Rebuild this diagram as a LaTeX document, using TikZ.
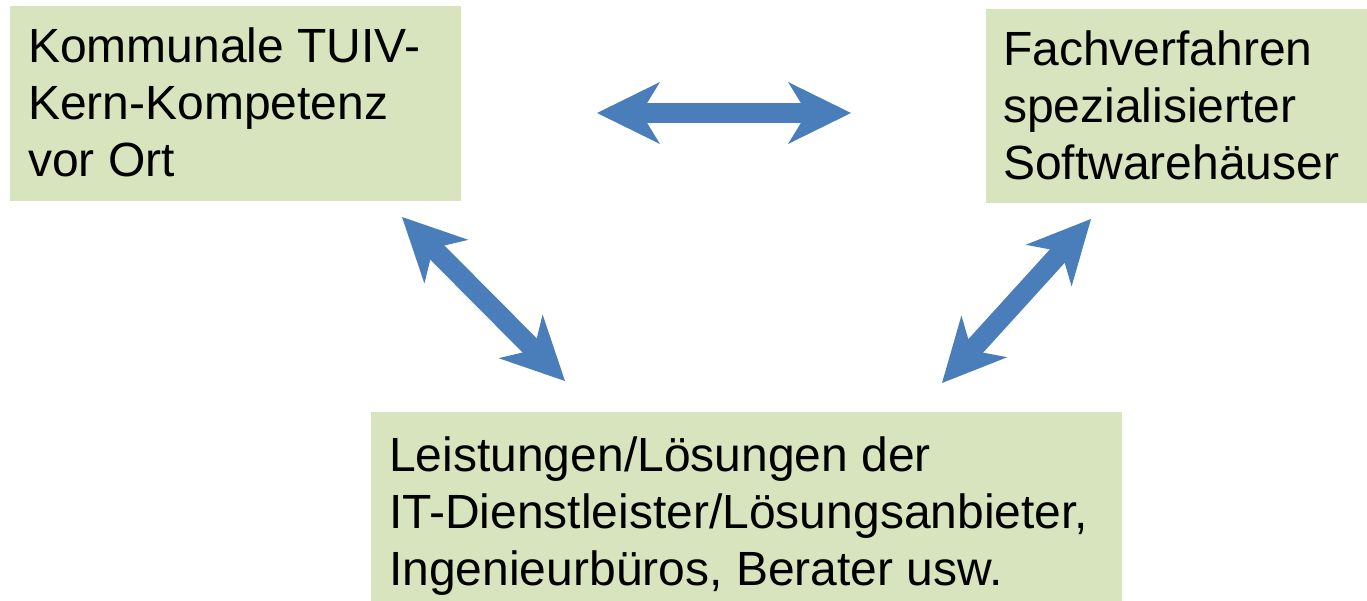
\documentclass[tikz,border=0pt]{standalone}
\usepackage{fontspec}
\setmainfont{Liberation Sans}
\usetikzlibrary{arrows.meta}
\definecolor{boxgreen}{RGB}{215,228,189}
\definecolor{arrowblue}{RGB}{74,126,187}
\begin{document}
\begin{tikzpicture}[x=1pt,y=-1pt,
  box/.style={fill=boxgreen, draw=none, anchor=north west, inner sep=0pt},
  boxtext/.style={anchor=base west, inner sep=0pt, align=left, font=\fontsize{48}{57}\selectfont},
  dblarrow/.style={draw=arrowblue, line width=20pt,
    {Stealth[length=63pt,width=62pt,inset=19pt,line width=0pt,fill=arrowblue]}-{Stealth[length=63pt,width=62pt,inset=19pt,line width=0pt,fill=arrowblue]}}]
\useasboundingbox (0,0) rectangle (1367,601);
% boxes
\node[box, minimum width=451pt, minimum height=195pt] (boxA) at (10,6) {};
\node[box, minimum width=381pt, minimum height=194pt] (boxB) at (986,9) {};
\node[box, minimum width=751pt, minimum height=189pt] (boxC) at (371,412) {};
% texts (base anchor = last line's baseline)
\node[boxtext] (textA) at (28,177) {Kommunale TUIV-\\Kern-Kompetenz\\vor Ort};
\node[boxtext] (textB) at (1003,180) {Fachverfahren\\spezialisierter\\Softwareh\"auser};
\node[boxtext] (textC) at (389,585) {Leistungen/L\"osungen der\\IT-Dienstleister/L\"osungsanbieter,\\Ingenieurb\"uros, Berater usw.};
% arrow ends
\coordinate (h1) at (597,113); \coordinate (h2) at (851,113);
\coordinate (l1) at (402,217); \coordinate (l2) at (565,381);
\coordinate (r1) at (1091,219); \coordinate (r2) at (942,383);
\draw[dblarrow] (h1) -- (h2);
\draw[dblarrow] (l1) -- (l2);
\draw[dblarrow] (r1) -- (r2);
\end{tikzpicture}
\end{document}
